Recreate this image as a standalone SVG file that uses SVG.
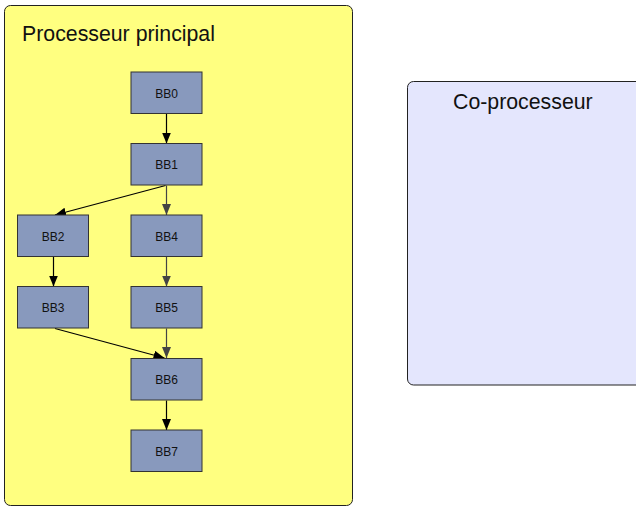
<svg xmlns="http://www.w3.org/2000/svg" width="636" height="507" viewBox="0 0 636 507">
<style>
.group{stroke:#222;stroke-width:1}
.node rect{fill:#8899bd;stroke:#333;stroke-width:1}
.node text{font-family:"Liberation Sans",Arial,sans-serif;font-size:12px;fill:#111;text-anchor:middle}
.title{font-family:"Liberation Sans",Arial,sans-serif;font-size:21.3px;fill:#111}
.e{fill:none;stroke:#000;stroke-width:1.2}
.g{fill:none;stroke:#444;stroke-width:1.2}
</style>
<defs>
<marker id="ab" markerUnits="userSpaceOnUse" markerWidth="12" markerHeight="10" refX="11" refY="4.5" orient="auto"><path d="M0,0 L11,4.5 L0,9 z" fill="#000"/></marker>
<marker id="ag" markerUnits="userSpaceOnUse" markerWidth="12" markerHeight="10" refX="11" refY="4.5" orient="auto"><path d="M0,0 L11,4.5 L0,9 z" fill="#444"/></marker>
</defs>
<g id="main">
<rect class="group" x="4.5" y="5.5" width="348" height="500" rx="6" fill="#ffff80"/>
<text class="title" x="22" y="41">Processeur principal</text>
</g>
<g id="coproc">
<rect class="group" x="407.5" y="81.5" width="250" height="303.5" rx="6" fill="#e4e6fd"/>
<text class="title" x="453" y="109">Co-processeur</text>
</g>
<g id="edges">
<line class="e" x1="166.5" y1="113.5" x2="166.5" y2="143.5" marker-end="url(#ab)"/>
<line class="e" x1="165.5" y1="185.5" x2="55" y2="215" marker-end="url(#ab)"/>
<line class="g" x1="166.5" y1="185.5" x2="166.5" y2="215" marker-end="url(#ag)"/>
<line class="e" x1="53.5" y1="257" x2="53.5" y2="286.5" marker-end="url(#ab)"/>
<line class="g" x1="166.5" y1="257" x2="166.5" y2="286.5" marker-end="url(#ag)"/>
<line class="e" x1="55" y1="328.5" x2="164.5" y2="358" marker-end="url(#ab)"/>
<line class="g" x1="166.5" y1="328.5" x2="166.5" y2="358" marker-end="url(#ag)"/>
<line class="e" x1="166.5" y1="400.5" x2="166.5" y2="430" marker-end="url(#ab)"/>
</g>
<g id="BB0" class="node"><rect x="131" y="72" width="71" height="41.5"/><text x="166.5" y="97.5">BB0</text></g>
<g id="BB1" class="node"><rect x="131" y="143.5" width="71" height="41.5"/><text x="166.5" y="169">BB1</text></g>
<g id="BB2" class="node"><rect x="17.5" y="215" width="71" height="41.5"/><text x="53" y="240.5">BB2</text></g>
<g id="BB4" class="node"><rect x="131" y="215" width="71" height="41.5"/><text x="166.5" y="240.5">BB4</text></g>
<g id="BB3" class="node"><rect x="17.5" y="286.5" width="71" height="41.5"/><text x="53" y="312">BB3</text></g>
<g id="BB5" class="node"><rect x="131" y="286.5" width="71" height="41.5"/><text x="166.5" y="312">BB5</text></g>
<g id="BB6" class="node"><rect x="131" y="358.5" width="71" height="41.5"/><text x="166.5" y="384">BB6</text></g>
<g id="BB7" class="node"><rect x="131" y="430" width="71" height="41.5"/><text x="166.5" y="455.5">BB7</text></g>
</svg>
